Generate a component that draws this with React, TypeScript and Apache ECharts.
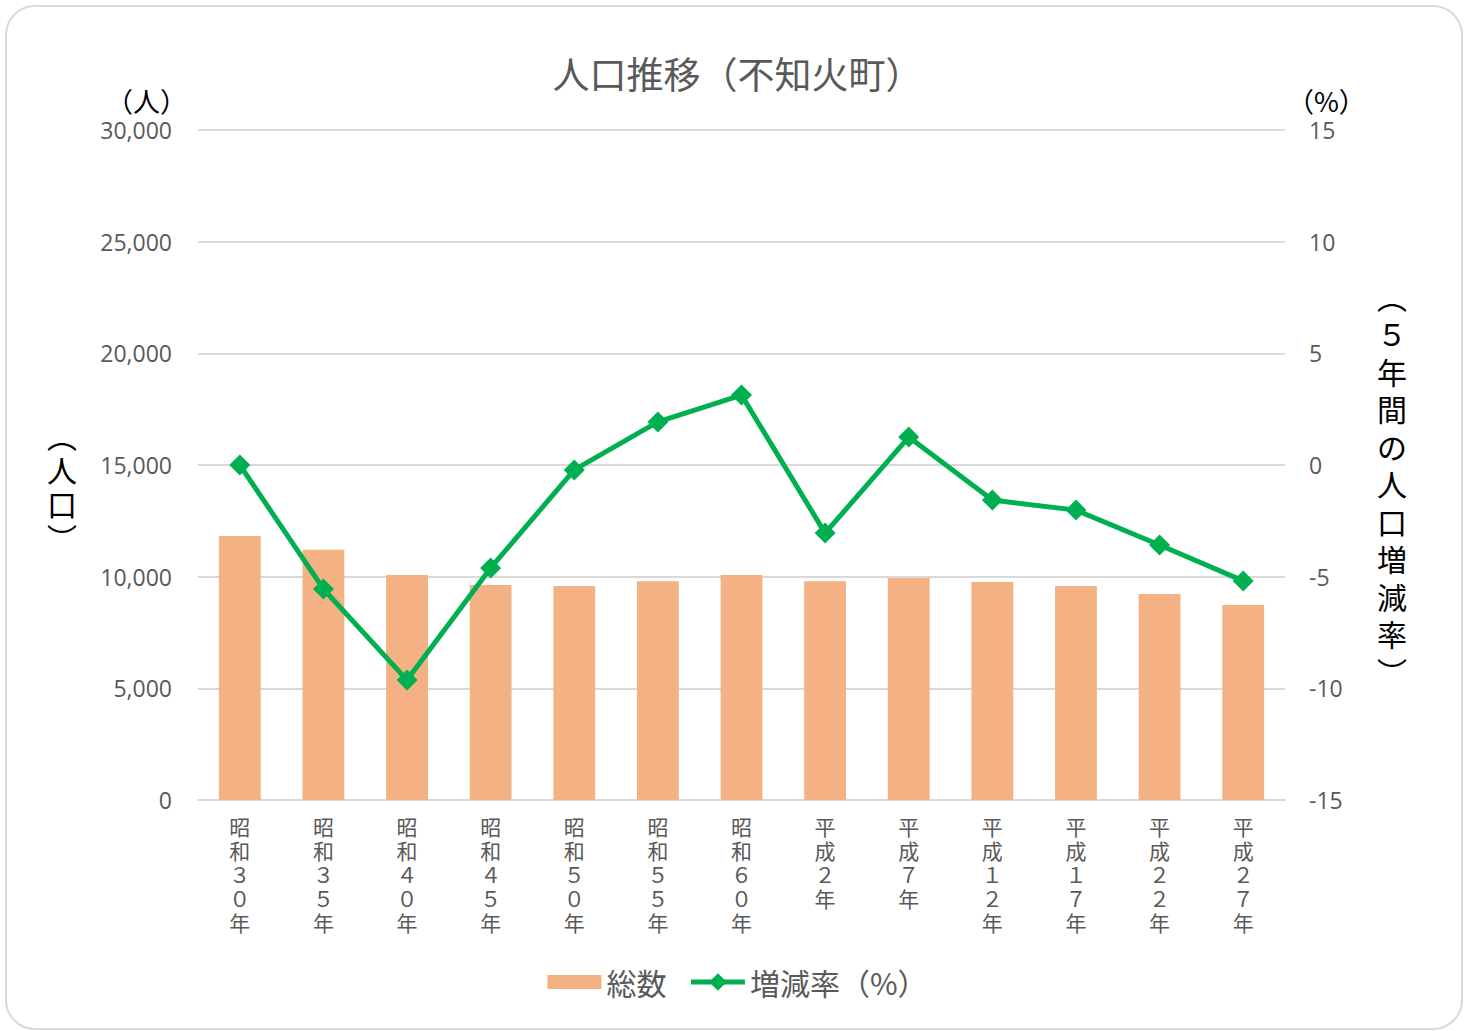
import React, { useEffect, useRef } from "react";
import * as echarts from "echarts";

const categories = [
  "昭和３０年", "昭和３５年", "昭和４０年", "昭和４５年", "昭和５０年", "昭和５５年", "昭和６０年",
  "平成２年", "平成７年", "平成１２年", "平成１７年", "平成２２年", "平成２７年",
];
const totalPopulation = [11820, 11200, 10080, 9630, 9580, 9800, 10080, 9800, 9940, 9760, 9580, 9220, 8730];
const changeRate = [0, -5.55, -9.63, -4.61, -0.22, 1.93, 3.13, -3.05, 1.25, -1.57, -2.02, -3.58, -5.19];
const leftTicks = { min: 0, max: 30000, interval: 5000 };
const rightTicks = { min: -15, max: 15, interval: 5 };

const JP = '"Noto Sans CJK JP", "Noto Sans", sans-serif';
const NUM = '"Open Sans", "Noto Sans", sans-serif';
const GRAY = "#595959";

export default function App() {
  const ref = useRef<HTMLDivElement>(null);
  useEffect(() => {
    if (!ref.current) return;
    const chart = echarts.init(ref.current, null, { renderer: "svg" });
    chart.setOption({
      animation: false,
      backgroundColor: "transparent",
      title: {
        text: "人口推移（不知火町）",
        left: "center",
        top: 49,
        textStyle: { fontFamily: JP, fontSize: 37, fontWeight: "normal", color: GRAY },
      },
      grid: { left: 198, right: 190, top: 130, bottom: 231, containLabel: false },
      legend: {
        bottom: 29,
        left: "center",
        itemWidth: 54,
        itemHeight: 22,
        itemGap: 22,
        lineStyle: { width: 5 },
        textStyle: { fontFamily: JP, fontSize: 30, color: GRAY },
        data: [
          {
            name: "総数",
            icon: "path://M0,0L1,0L0,0Z M0,4L54,4L54,18L0,18Z M0,22L1,22L0,22Z",
            itemStyle: { color: "#F4B183" },
          },
          { name: "増減率（%）" },
        ],
      },
      xAxis: {
        type: "category",
        data: categories,
        axisLine: { lineStyle: { color: "#d9d9d9", width: 2 } },
        axisTick: { show: false },
        axisLabel: {
          interval: 0,
          margin: 14,
          fontFamily: JP,
          fontSize: 21,
          lineHeight: 24,
          color: GRAY,
          verticalAlign: "top",
          formatter: (v: string) => v.split("").join("\n"),
        },
      },
      yAxis: [
        {
          type: "value",
          min: leftTicks.min,
          max: leftTicks.max,
          interval: leftTicks.interval,
          axisLine: { show: false },
          axisTick: { show: false },
          splitLine: { lineStyle: { color: "#d9d9d9", width: 2 } },
          axisLabel: {
            margin: 26,
            fontFamily: NUM,
            fontSize: 23,
            color: GRAY,
            formatter: (v: number) => v.toLocaleString("en-US"),
          },
        },
        {
          type: "value",
          min: rightTicks.min,
          max: rightTicks.max,
          interval: rightTicks.interval,
          axisLine: { show: false },
          axisTick: { show: false },
          splitLine: { show: false },
          axisLabel: {
            margin: 24,
            fontFamily: NUM,
            fontSize: 23,
            color: GRAY,
          },
        },
      ],
      graphic: [
        {
          type: "text",
          left: 106,
          top: 87,
          style: { text: "（人）", fontFamily: JP, fontSize: 27, fill: "#000" },
        },
        {
          type: "text",
          left: 1287,
          top: 87,
          style: { text: "（%）", fontFamily: JP, fontSize: 27, fill: "#000" },
        },
        {
          type: "text",
          left: 47,
          top: 418,
          style: {
            text: "︵\n人\n口\n︶",
            fontFamily: JP,
            fontSize: 30,
            lineHeight: 34,
            fill: "#000",
            align: "center",
          },
        },
        {
          type: "text",
          left: 1377,
          top: 277,
          style: {
            text: "︵\n５\n年\n間\nの\n人\n口\n増\n減\n率\n︶",
            fontFamily: JP,
            fontSize: 30,
            lineHeight: 37.5,
            fill: "#000",
            align: "center",
          },
        },
      ],
      series: [
        {
          name: "総数",
          type: "bar",
          yAxisIndex: 0,
          data: totalPopulation,
          barWidth: "50%",
          itemStyle: { color: "#F4B183" },
        },
        {
          name: "増減率（%）",
          type: "line",
          yAxisIndex: 1,
          data: changeRate,
          symbol: "diamond",
          symbolSize: 21,
          lineStyle: { color: "#00B050", width: 5 },
          itemStyle: { color: "#00B050" },
        },
      ],
    });
    return () => chart.dispose();
  }, []);
  return (
    <div style={{ position: "absolute", left: 0, top: 0, width: 1475, height: 1031, background: "#fff" }}>
      <div
        style={{
          position: "absolute",
          left: 5,
          top: 5,
          width: 1458,
          height: 1025,
          border: "2px solid #d9d9d9",
          borderRadius: 30,
          boxSizing: "border-box",
        }}
      />
      <div ref={ref} style={{ position: "absolute", left: 0, top: 0, width: 1475, height: 1031 }} />
    </div>
  );
}
